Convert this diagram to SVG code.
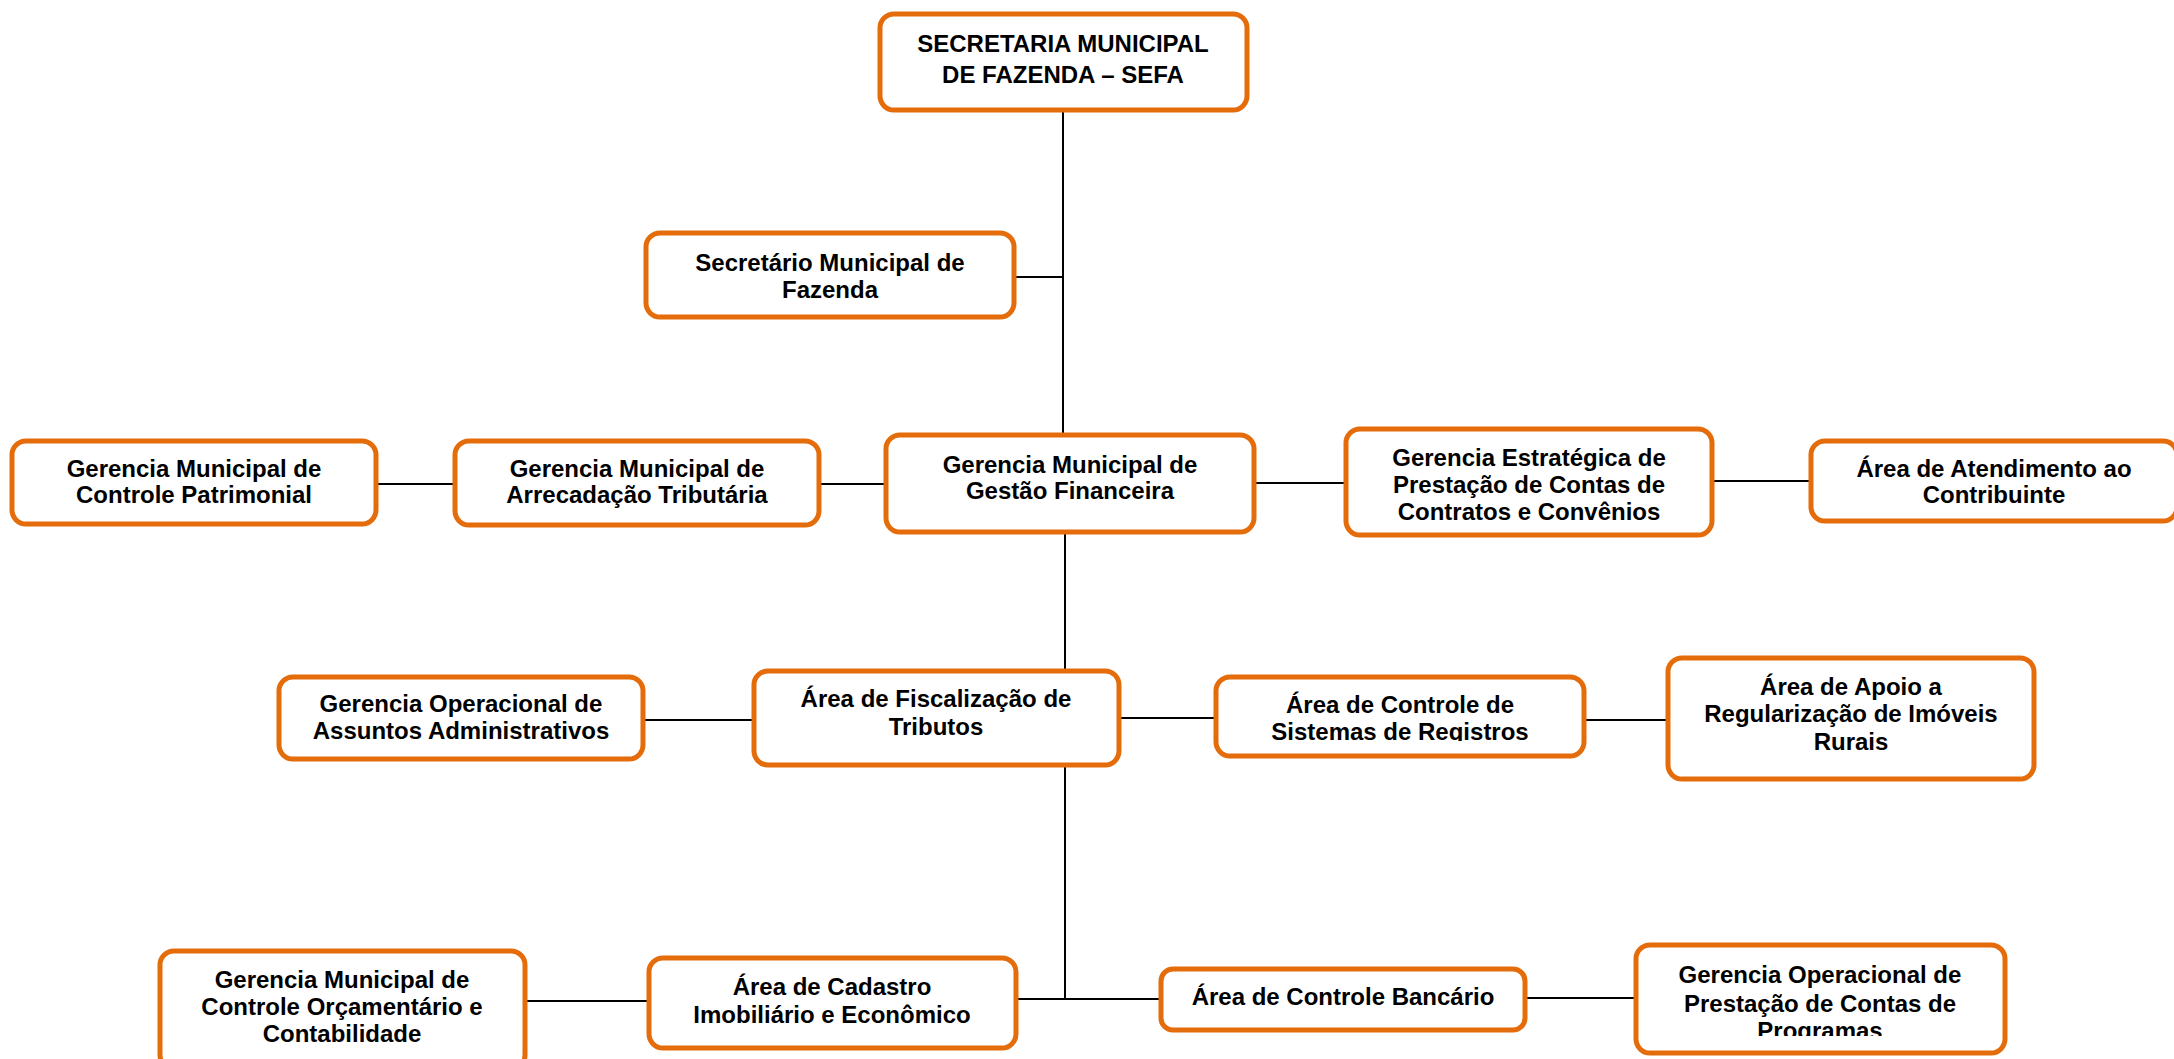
<svg xmlns="http://www.w3.org/2000/svg" width="2174" height="1059" viewBox="0 0 2174 1059">
<style>
.box{fill:#fff;stroke:#E46C0A;stroke-width:5}
.t{font-family:"Liberation Sans",Arial,sans-serif;font-weight:bold;font-size:24px;fill:#000;text-anchor:middle}
.c{stroke:#000;stroke-width:2;fill:none}
</style>
<defs>
<clipPath id="clipSis"><rect x="1213" y="674" width="374" height="67"/></clipPath>
<clipPath id="clipProg"><rect x="1633" y="942" width="375" height="94"/></clipPath>
</defs>
<rect width="2174" height="1059" fill="#fff"/>
<g id="connectors">
<line class="c" x1="1063" y1="111" x2="1063" y2="433"/>
<line class="c" x1="1015" y1="277" x2="1063" y2="277"/>
<line class="c" x1="377" y1="484" x2="454" y2="484"/>
<line class="c" x1="819" y1="484" x2="885" y2="484"/>
<line class="c" x1="1255" y1="483" x2="1345" y2="483"/>
<line class="c" x1="1712" y1="481" x2="1810" y2="481"/>
<line class="c" x1="1065" y1="534" x2="1065" y2="669"/>
<line class="c" x1="644" y1="720" x2="753" y2="720"/>
<line class="c" x1="1120" y1="718" x2="1215" y2="718"/>
<line class="c" x1="1585" y1="720" x2="1667" y2="720"/>
<line class="c" x1="1065" y1="766" x2="1065" y2="999"/>
<line class="c" x1="1017" y1="999" x2="1160" y2="999"/>
<line class="c" x1="525" y1="1001" x2="648" y2="1001"/>
<line class="c" x1="1526" y1="998" x2="1635" y2="998"/>
</g>
<g id="n-sefa">
<rect class="box" x="880" y="14" width="367" height="96" rx="14"/>
<text class="t" x="1063" y="52">SECRETARIA MUNICIPAL</text>
<text class="t" x="1063" y="83">DE FAZENDA – SEFA</text>
</g>
<g id="n-secretario">
<rect class="box" x="646" y="233" width="368" height="84" rx="14"/>
<text class="t" x="830" y="271">Secretário Municipal de</text>
<text class="t" x="830" y="298">Fazenda</text>
</g>
<g id="n-patrimonial">
<rect class="box" x="12" y="441" width="364" height="83" rx="14"/>
<text class="t" x="194" y="477">Gerencia Municipal de</text>
<text class="t" x="194" y="503">Controle Patrimonial</text>
</g>
<g id="n-arrecadacao">
<rect class="box" x="455" y="441" width="364" height="84" rx="14"/>
<text class="t" x="637" y="477">Gerencia Municipal de</text>
<text class="t" x="637" y="503">Arrecadação Tributária</text>
</g>
<g id="n-gestao">
<rect class="box" x="886" y="435" width="368" height="97" rx="14"/>
<text class="t" x="1070" y="473">Gerencia Municipal de</text>
<text class="t" x="1070" y="499">Gestão Financeira</text>
</g>
<g id="n-estrategica">
<rect class="box" x="1346" y="429" width="366" height="106" rx="14"/>
<text class="t" x="1529" y="466">Gerencia Estratégica de</text>
<text class="t" x="1529" y="493">Prestação de Contas de</text>
<text class="t" x="1529" y="520">Contratos e Convênios</text>
</g>
<g id="n-atendimento">
<rect class="box" x="1811" y="441" width="366" height="80" rx="14"/>
<text class="t" x="1994" y="477">Área de Atendimento ao</text>
<text class="t" x="1994" y="503">Contribuinte</text>
</g>
<g id="n-assuntos">
<rect class="box" x="279" y="677" width="364" height="82" rx="14"/>
<text class="t" x="461" y="712">Gerencia Operacional de</text>
<text class="t" x="461" y="739">Assuntos Administrativos</text>
</g>
<g id="n-fiscalizacao">
<rect class="box" x="754" y="671" width="365" height="94" rx="14"/>
<text class="t" x="936" y="707">Área de Fiscalização de</text>
<text class="t" x="936" y="735">Tributos</text>
</g>
<g id="n-sistemas">
<rect class="box" x="1216" y="677" width="368" height="79" rx="14"/>
<g clip-path="url(#clipSis)">
<text class="t" x="1400" y="713">Área de Controle de</text>
<text class="t" x="1400" y="740">Sistemas de Registros</text>
</g>
</g>
<g id="n-apoio">
<rect class="box" x="1668" y="658" width="366" height="121" rx="14"/>
<text class="t" x="1851" y="695">Área de Apoio a</text>
<text class="t" x="1851" y="722">Regularização de Imóveis</text>
<text class="t" x="1851" y="750">Rurais</text>
</g>
<g id="n-orcamentario">
<rect class="box" x="160" y="951" width="365" height="118" rx="14"/>
<text class="t" x="342" y="988">Gerencia Municipal de</text>
<text class="t" x="342" y="1015">Controle Orçamentário e</text>
<text class="t" x="342" y="1042">Contabilidade</text>
</g>
<g id="n-cadastro">
<rect class="box" x="649" y="958" width="367" height="90" rx="14"/>
<text class="t" x="832" y="995">Área de Cadastro</text>
<text class="t" x="832" y="1023">Imobiliário e Econômico</text>
</g>
<g id="n-bancario">
<rect class="box" x="1161" y="969" width="364" height="61" rx="12"/>
<text class="t" x="1343" y="1005">Área de Controle Bancário</text>
</g>
<g id="n-programas">
<rect class="box" x="1636" y="945" width="369" height="108" rx="14"/>
<g clip-path="url(#clipProg)">
<text class="t" x="1820" y="983">Gerencia Operacional de</text>
<text class="t" x="1820" y="1012">Prestação de Contas de</text>
<text class="t" x="1820" y="1039">Programas</text>
</g>
</g>
</svg>
